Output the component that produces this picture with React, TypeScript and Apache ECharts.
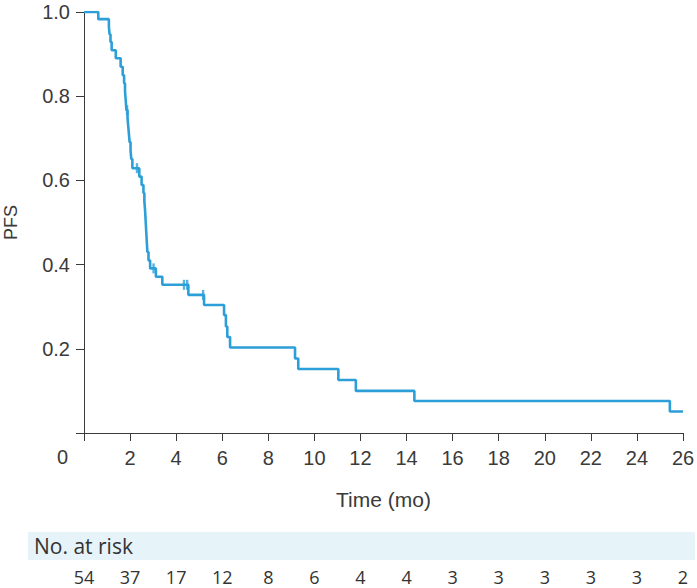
import React, { useEffect, useRef } from "react";
import * as echarts from "echarts";

// Kaplan–Meier step points: survival value that holds from each time onward
const stepTimes = [
  0, 0.62, 1.08, 1.11, 1.15, 1.2, 1.38, 1.59, 1.68, 1.74, 1.78, 1.81, 1.84,
  1.89, 1.92, 1.95, 1.98, 2.02, 2.05, 2.1, 2.4, 2.5, 2.58, 2.62, 2.65, 2.67,
  2.69, 2.71, 2.73, 2.75, 2.8, 2.87, 3.12, 3.4, 4.53, 5.21, 6.08, 6.16, 6.22,
  6.34, 9.16, 9.3, 11.04, 11.8, 14.34, 25.43, 26,
];
const stepSurv = [
  1.0, 0.983, 0.965, 0.947, 0.929, 0.909, 0.89, 0.87, 0.85, 0.831, 0.812,
  0.791, 0.767, 0.748, 0.729, 0.71, 0.691, 0.672, 0.651, 0.629, 0.609, 0.589,
  0.57, 0.55, 0.53, 0.51, 0.49, 0.47, 0.45, 0.43, 0.41, 0.391, 0.371, 0.352,
  0.328, 0.304, 0.28, 0.253, 0.228, 0.203, 0.177, 0.152, 0.126, 0.1, 0.076,
  0.051, 0.051,
];
// Censored observations
const censorTimes = [1.87, 2.3, 3.02, 4.34, 4.48, 5.17];
const censorSurv = [0.767, 0.629, 0.391, 0.352, 0.352, 0.328];

// Number at risk at each x tick (0, 2, ..., 26)
const riskTimes = [0, 2, 4, 6, 8, 10, 12, 14, 16, 18, 20, 22, 24, 26];
const riskCounts = [54, 37, 17, 12, 8, 6, 4, 4, 3, 3, 3, 3, 3, 2];

const LINE_COLOR = "#2c9fd8";
const AXIS_COLOR = "#3a3a3a";
const AXIS_FONT = "'Liberation Sans', Arial, sans-serif";
const TABLE_FONT = "'Open Sans', 'Noto Sans', sans-serif";

export default function App() {
  const ref = useRef<HTMLDivElement>(null);

  useEffect(() => {
    document.body.style.margin = "0";
    if (!ref.current) return;
    const chart = echarts.init(ref.current, null, { renderer: "svg" });

    const curve = stepTimes.map((t, i) => [t, stepSurv[i]]);
    const censors = censorTimes.map((t, i) => [t, censorSurv[i]]);
    const riskMap: Record<string, number> = {};
    riskTimes.forEach((t, i) => (riskMap[String(t)] = riskCounts[i]));

    chart.setOption({
      animation: false,
      backgroundColor: "#ffffff",
      grid: {
        left: 84,
        right: 14,
        top: 12,
        bottom: 155,
        containLabel: false,
        outerBoundsMode: "none",
      },
      xAxis: [
        {
          type: "value",
          min: 0,
          max: 26,
          interval: 2,
          name: "Time (mo)",
          nameLocation: "middle",
          nameGap: 56,
          nameTextStyle: { fontFamily: AXIS_FONT, fontSize: 21, color: AXIS_COLOR },
          axisLine: { show: true, onZero: false, lineStyle: { color: AXIS_COLOR, width: 1 } },
          axisTick: { show: true, length: 8, lineStyle: { color: AXIS_COLOR } },
          axisLabel: {
            margin: 15,
            fontFamily: AXIS_FONT,
            fontSize: 20,
            color: AXIS_COLOR,
            formatter: (v: number) => (v === 0 ? "" : String(v)),
          },
          splitLine: { show: false },
        },
        {
          type: "value",
          min: 0,
          max: 26,
          interval: 2,
          position: "bottom",
          offset: 144,
          axisLine: { show: false },
          axisTick: { show: false },
          splitLine: { show: false },
          axisLabel: {
            margin: 0,
            verticalAlign: "middle",
            lineHeight: 18,
            fontFamily: TABLE_FONT,
            fontSize: 18,
            color: "#333333",
            formatter: (v: number) =>
              riskMap[String(v)] !== undefined ? String(riskMap[String(v)]) : "",
          },
        },
      ],
      yAxis: {
        type: "value",
        min: 0,
        max: 1,
        interval: 0.2,
        name: "PFS",
        nameLocation: "middle",
        nameGap: 64,
        nameTextStyle: { fontFamily: AXIS_FONT, fontSize: 18, color: AXIS_COLOR },
        axisLine: { show: true, lineStyle: { color: AXIS_COLOR, width: 1 } },
        axisTick: { show: true, length: 8, lineStyle: { color: AXIS_COLOR } },
        axisLabel: {
          margin: 14,
          fontFamily: AXIS_FONT,
          fontSize: 20,
          color: AXIS_COLOR,
          formatter: (v: number) => (v === 0 ? "" : v.toFixed(1)),
        },
        splitLine: { show: false },
      },
      graphic: [
        {
          type: "text",
          left: 57,
          top: 447,
          style: { text: "0", fontFamily: AXIS_FONT, fontSize: 20, fill: AXIS_COLOR },
        },
        {
          type: "rect",
          shape: { x: 28, y: 532, width: 667, height: 28 },
          style: { fill: "#e6f3f9" },
          z: 0,
        },
        {
          type: "text",
          x: 34,
          y: 546,
          style: {
            text: "No. at risk",
            fontFamily: TABLE_FONT,
            fontSize: 21,
            fill: "#333333",
            textVerticalAlign: "middle",
          },
          z: 1,
        },
      ],
      series: [
        {
          type: "line",
          step: "end",
          data: curve,
          symbol: "none",
          lineStyle: { color: LINE_COLOR, width: 2.6 },
          z: 3,
        },
        {
          type: "scatter",
          data: censors,
          symbol: "rect",
          symbolSize: [2.4, 10],
          itemStyle: { color: LINE_COLOR },
          z: 4,
        },
      ],
    });

    return () => chart.dispose();
  }, []);

  return <div ref={ref} style={{ width: 697, height: 588 }} />;
}
